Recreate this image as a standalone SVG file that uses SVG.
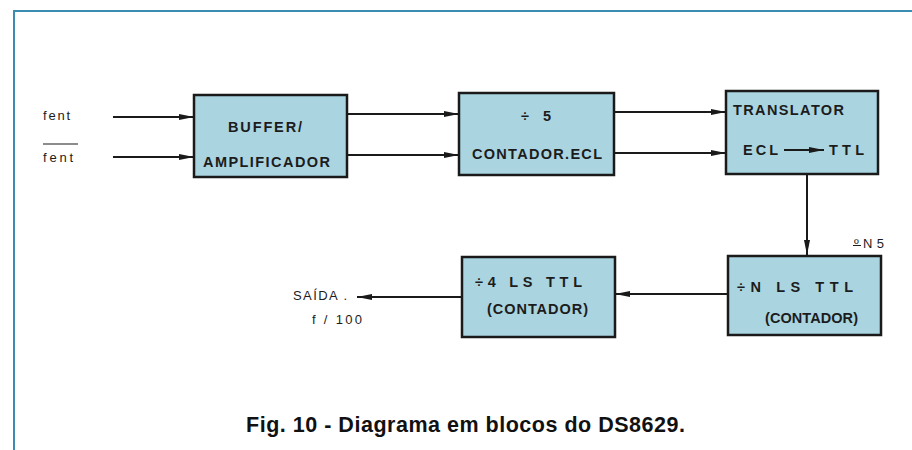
<svg xmlns="http://www.w3.org/2000/svg" width="912" height="450" viewBox="0 0 912 450">
<style>
  .box { fill: #a9d4e0; stroke: #1a1a1a; stroke-width: 2.5; }
  .lbl { font-family: "Liberation Sans", Arial, sans-serif; font-weight: bold; font-size: 14.5px; fill: #1c1c1c; }
  .sm { font-family: "Liberation Sans", Arial, sans-serif; font-size: 13px; fill: #1c1c1c; }
  .cap { font-family: "Liberation Sans", Arial, sans-serif; font-weight: bold; font-size: 21.5px; fill: #111; }
  .wire { stroke: #1a1a1a; stroke-width: 2; fill: none; marker-end: url(#ah); }
</style>
<defs>
  <marker id="ah" markerUnits="userSpaceOnUse" markerWidth="16" markerHeight="8" refX="15" refY="4" orient="auto">
    <path d="M0,1 L15,4 L0,7 Z" fill="#1a1a1a"/>
  </marker>
</defs>
<rect x="0" y="0" width="912" height="450" fill="#ffffff"/>
<g id="frame" stroke="#3a8db0" stroke-width="2" fill="none">
  <path d="M14,450 L14,11 L912,11"/>
</g>
<g id="inputs">
  <text class="sm" x="43" y="120" textLength="27" lengthAdjust="spacing">fent</text>
  <text class="sm" x="43" y="162" textLength="30" lengthAdjust="spacing">fent</text>
  <line x1="43" y1="144" x2="78" y2="144" stroke="#1a1a1a" stroke-width="1.2"/>
</g>
<g id="connectors">
  <line class="wire" x1="113" y1="117" x2="194" y2="117"/>
  <line class="wire" x1="113" y1="157" x2="194" y2="157"/>
  <line class="wire" x1="347" y1="114" x2="459" y2="114"/>
  <line class="wire" x1="347" y1="155" x2="459" y2="155"/>
  <line class="wire" x1="614" y1="112" x2="726" y2="112"/>
  <line class="wire" x1="614" y1="153" x2="726" y2="153"/>
  <line class="wire" x1="807" y1="174" x2="807" y2="255"/>
  <line class="wire" x1="728" y1="294" x2="615" y2="294"/>
  <line class="wire" x1="462" y1="297" x2="357" y2="297"/>
</g>
<g id="buffer">
  <rect class="box" x="194" y="95" width="153" height="82"/>
  <text class="lbl" x="228" y="132" textLength="74" lengthAdjust="spacing">BUFFER/</text>
  <text class="lbl" x="203" y="167" textLength="127" lengthAdjust="spacing">AMPLIFICADOR</text>
</g>
<g id="div5">
  <rect class="box" x="459" y="93" width="155" height="82"/>
  <text class="lbl" x="521" y="121" textLength="30" lengthAdjust="spacing">÷ 5</text>
  <text class="lbl" x="472" y="159" textLength="130" lengthAdjust="spacing">CONTADOR.ECL</text>
</g>
<g id="translator">
  <rect class="box" x="726" y="91" width="152" height="83"/>
  <text class="lbl" x="733" y="115" textLength="111" lengthAdjust="spacing">TRANSLATOR</text>
  <text class="lbl" x="743" y="155" textLength="35" lengthAdjust="spacing">ECL</text>
  <line class="wire" x1="784" y1="150" x2="824" y2="150"/>
  <text class="lbl" x="829" y="155" textLength="35" lengthAdjust="spacing">TTL</text>
</g>
<g id="divN">
  <rect class="box" x="728" y="256" width="153" height="79"/>
  <text class="lbl" x="737" y="292" textLength="116" lengthAdjust="spacing">÷N LS TTL</text>
  <text class="lbl" x="765" y="323" textLength="93" lengthAdjust="spacing">(CONTADOR)</text>
  <text class="sm" x="854" y="248" textLength="30" lengthAdjust="spacing">ºN5</text>
  <line x1="853" y1="245.5" x2="861" y2="245.5" stroke="#1c1c1c" stroke-width="1"/>
</g>
<g id="div4">
  <rect class="box" x="462" y="257" width="153" height="80"/>
  <text class="lbl" x="475" y="287" textLength="107" lengthAdjust="spacing">÷4 LS TTL</text>
  <text class="lbl" x="487" y="314" textLength="101" lengthAdjust="spacing">(CONTADOR)</text>
</g>
<g id="output">
  <text class="sm" x="293" y="300" textLength="54" lengthAdjust="spacing">SAÍDA .</text>
  <text class="sm" x="312" y="324" textLength="50" lengthAdjust="spacing">f / 100</text>
</g>
<g id="caption">
  <text class="cap" x="246" y="432" textLength="439" lengthAdjust="spacing">Fig. 10 - Diagrama em blocos do DS8629.</text>
</g>
</svg>
